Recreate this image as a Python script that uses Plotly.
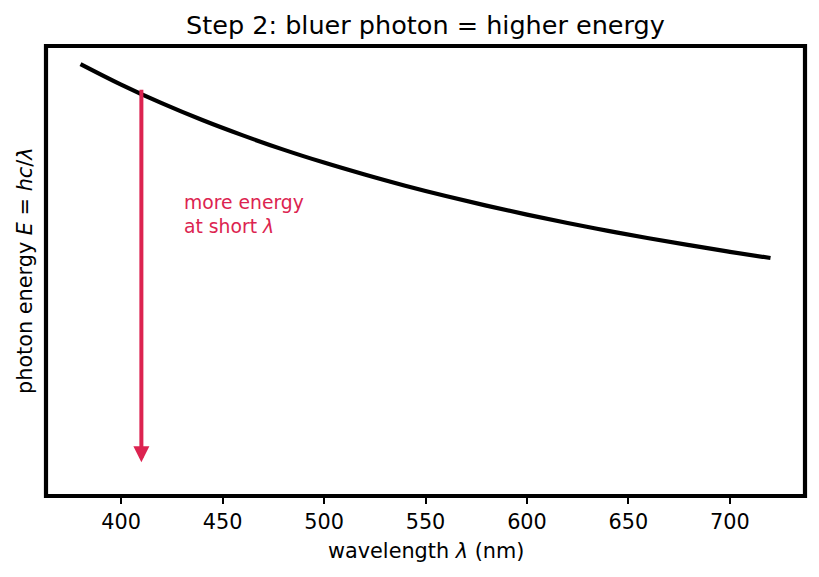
import plotly.graph_objects as go

# data
wavelength_nm = [380, 400, 420, 440, 460, 480, 500, 520, 540, 560, 580, 600, 620, 640, 660, 680, 700, 720]
energy_ev = [3.263, 3.100, 2.952, 2.818, 2.696, 2.583, 2.480, 2.385, 2.296, 2.214, 2.138, 2.067,
             2.000, 1.938, 1.879, 1.824, 1.771, 1.722]
x_ticks = [400, 450, 500, 550, 600, 650, 700]
arrow_x = 410
arrow_from = 3.07
arrow_to = 0.10
note_x = 430
note_y = 2.07

ACCENT = "#dc2350"
FONT = "DejaVu Sans"

fig = go.Figure()
fig.add_trace(go.Scatter(x=wavelength_nm, y=energy_ev, mode="lines",
                         line=dict(color="black", width=4.2, shape="spline", smoothing=1.0),
                         hoverinfo="skip", showlegend=False))

fig.update_layout(
    width=819, height=577,
    margin=dict(l=46, r=14, t=46, b=81),
    paper_bgcolor="white", plot_bgcolor="white",
    font=dict(family=FONT, color="black", size=21),
    title=dict(text="Step 2: bluer photon = higher energy", x=0.5195, xanchor="center",
               y=1 - 25 / 577, yanchor="middle", yref="container",
               font=dict(size=25.5, family=FONT, color="black")),
    xaxis=dict(range=[363, 737], tickvals=x_ticks, ticks="outside", ticklen=7, tickwidth=1.6,
               tickcolor="black", showgrid=False, zeroline=False, showline=False,
               tickfont=dict(size=20.8, family=FONT, color="black")),
    yaxis=dict(range=[-0.168, 3.406], showticklabels=False, ticks="", showgrid=False,
               zeroline=False, showline=False),
    showlegend=False,
)

fig.add_shape(type="rect", xref="paper", yref="paper", x0=0, x1=1, y0=0, y1=1,
              line=dict(color="black", width=4.2), layer="above")

fig.add_annotation(x=arrow_x, y=arrow_to, ax=arrow_x, ay=arrow_from, xref="x", yref="y",
                   axref="x", ayref="y", text="", showarrow=True, arrowhead=2,
                   arrowsize=0.8, arrowwidth=4, arrowcolor=ACCENT)

fig.add_annotation(x=note_x, y=note_y, xref="x", yref="y", xanchor="left", yanchor="middle",
                   align="left", showarrow=False,
                   text="more energy<br>at short <i>λ</i>",
                   font=dict(size=18.75, family=FONT, color=ACCENT))

fig.add_annotation(x=0.5, y=-(551 - 496) / 450, xref="paper", yref="paper",
                   xanchor="center", yanchor="middle", showarrow=False,
                   text="wavelength <i>λ</i> (nm)", font=dict(size=20.8, family=FONT, color="black"))

fig.add_annotation(x=-(46 - 25) / 759, y=0.5, xref="paper", yref="paper",
                   xanchor="center", yanchor="middle", showarrow=False, textangle=-90,
                   text="photon energy <i>E</i> = <i>hc</i>/<i>λ</i>",
                   font=dict(size=20.8, family=FONT, color="black"))

fig.write_html("out.html")
